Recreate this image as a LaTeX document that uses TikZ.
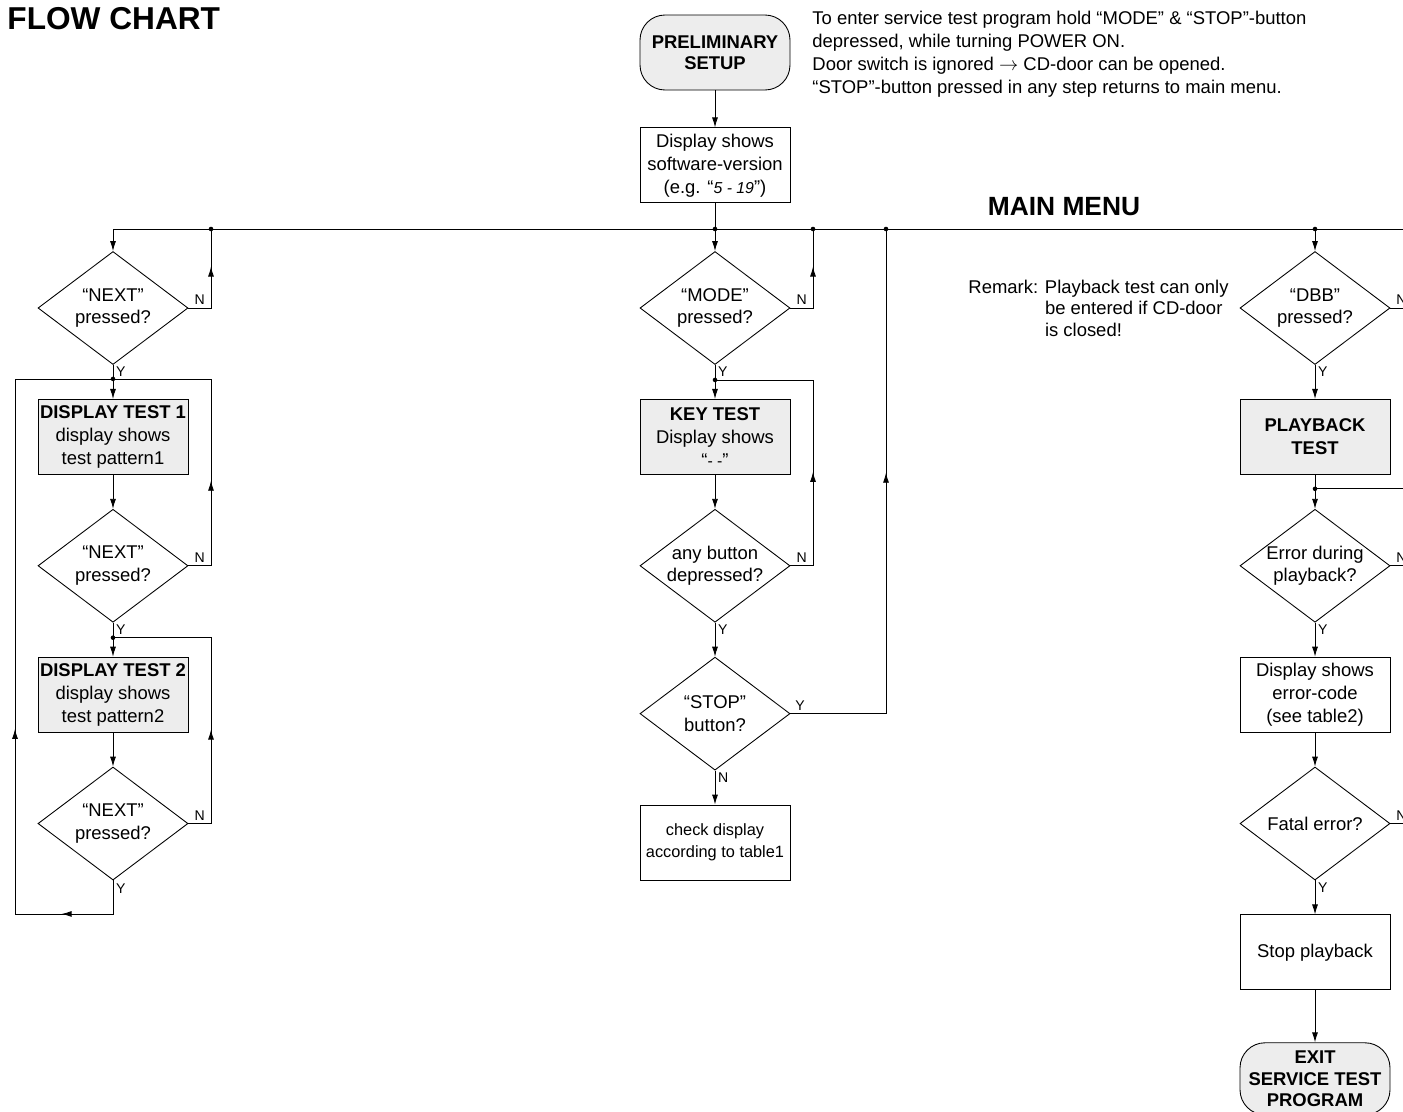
\documentclass[tikz,border=0pt]{standalone}
\usepackage{fontspec}
\setmainfont{Liberation Sans}
\usetikzlibrary{shapes.geometric, positioning, arrows.meta, decorations.markings, calc}

\begin{document}
\begin{tikzpicture}[node distance=0.68cm, line width=0.5pt, >={Latex[length=2mm,width=1.2mm]},
    every node/.style={font=\fontsize{10.5}{13}\selectfont},
    box/.style={draw, rectangle, minimum width=3cm, minimum height=1.5cm, align=center, inner sep=1pt},
    test/.style={box, fill=black!7},
    term/.style={box, fill=black!7, rounded corners=0.5cm, font=\fontsize{10.5}{12}\selectfont\bfseries},
    decision/.style={draw, diamond, minimum width=3cm, minimum height=2.26cm, inner sep=0pt, label={[align=center]center:#1}},
    yn/.style={font=\fontsize{8}{9}\selectfont, inner sep=1.5pt},
    marr/.style={postaction={decorate, decoration={markings, mark=at position #1 with {\arrow{>}}}}}]

    \useasboundingbox (0,0) rectangle (28.06,-22.22);
    \clip (0,0) rectangle (28.06,-22.22);

    % titles and remarks
    \node[anchor=base west, inner sep=0pt, font=\fontsize{18}{20}\selectfont\bfseries] (title) at (0.14,-0.58) {FLOW CHART};
    \node[anchor=base, inner sep=0pt, font=\fontsize{15}{17}\selectfont\bfseries] (menu) at (21.28,-4.3) {MAIN MENU};
    \node[anchor=north west, inner sep=0pt, align=left] (note) at (16.24,-0.22) {To enter service test program hold “MODE” \& “STOP”-button\\depressed, while turning POWER ON.\\Door switch is ignored $\rightarrow$ CD-door can be opened.\\“STOP”-button pressed in any step returns to main menu.};
    \node[anchor=north west, inner sep=0pt, font=\fontsize{10.5}{12.4}\selectfont] (rem) at (19.36,-5.55) {\begin{tabular}{@{}l@{ }l@{}}Remark: & Playback test can only\\ & be entered if CD-door\\ & is closed!\end{tabular}};

    % start
    \node[term] (pre) at (14.3,-1.05) {PRELIMINARY\\SETUP};
    \node[box, below=0.74cm of pre] (ver) {Display shows\\software-version\\(e.g. “{\itshape\fontsize{9}{10}\selectfont 5 - 19}”)};

    % main menu line
    \coordinate (mA) at (2.26,-4.58);
    \coordinate (mA1) at (4.22,-4.58);
    \coordinate (mB) at (14.3,-4.58);
    \coordinate (mB1) at (16.26,-4.58);
    \coordinate (mB2) at (17.72,-4.58);
    \coordinate (mC) at (26.3,-4.58);
    \coordinate (mEnd) at (28.4,-4.58);

    % display test
    \node[decision={“NEXT”\\pressed?}] (dA1) at (2.26,-6.16) {};
    \node[test, below=of dA1] (tA1) {\textbf{DISPLAY TEST 1}\\display shows\\test pattern1};
    \node[decision={“NEXT”\\pressed?}, below=of tA1] (dA2) {};
    \node[test, below=of dA2] (tA2) {\textbf{DISPLAY TEST 2}\\display shows\\test pattern2};
    \node[decision={“NEXT”\\pressed?}, below=of tA2] (dA3) {};
    \coordinate[below=0.28cm of dA1] (jA1);
    \coordinate[below=0.3cm of dA2] (jA2);
    \coordinate[below=0.67cm of dA3] (cA);

    % key test
    \node[decision={“MODE”\\pressed?}] (dB1) at (14.3,-6.16) {};
    \node[test, below=of dB1] (key) {\textbf{KEY TEST}\\Display shows\\“{\small - -}”};
    \node[decision={any button\\depressed?}, below=of key] (dB2) {};
    \node[decision={“STOP”\\button?}, below=of dB2] (dB3) {};
    \node[box, below=of dB3, font=\fontsize{9.3}{12.5}\selectfont] (chk) {check display\\according to table1};
    \coordinate[below=0.3cm of dB1] (jB1);

    % playback test
    \node[decision={“DBB”\\pressed?}] (dC1) at (26.3,-6.16) {};
    \node[test, below=of dC1] (pb) {\textbf{PLAYBACK}\\\textbf{TEST}};
    \node[decision={Error during\\playback?}, below=of pb] (dC2) {};
    \node[box, below=of dC2] (err) {Display shows\\error-code\\(see table2)};
    \node[decision={Fatal error?}, below=of err] (dC3) {};
    \node[box, below=of dC3] (stp) {Stop playback};
    \node[term, below=1.04cm of stp, minimum height=1.44cm] (exit) {EXIT\\SERVICE TEST\\PROGRAM};
    \coordinate[below=0.28cm of pb] (jC);

    % straight connections
    \path[->]
    (pre) edge (ver)
    (ver) edge (dB1)
    (mA) edge (dA1)
    (mC) edge (dC1)
    (dA1) edge node[yn, right, pos=0.2] {Y} (tA1)
    (tA1) edge (dA2)
    (dA2) edge node[yn, right, pos=0.2] {Y} (tA2)
    (tA2) edge (dA3)
    (dB1) edge node[yn, right, pos=0.2] {Y} (key)
    (key) edge (dB2)
    (dB2) edge node[yn, right, pos=0.2] {Y} (dB3)
    (dB3) edge node[yn, right, pos=0.2] {N} (chk)
    (dC1) edge node[yn, right, pos=0.2] {Y} (pb)
    (pb) edge (dC2)
    (dC2) edge node[yn, right, pos=0.2] {Y} (err)
    (err) edge (dC3)
    (dC3) edge node[yn, right, pos=0.2] {Y} (stp)
    (stp) edge (exit);

    % loops back
    \draw (mA) -- (mEnd);
    \draw[marr=0.63] (dA1.east) -| node[yn, above, pos=0.25] {N} (mA1);
    \draw[marr=0.35] (dA2.east) -| node[yn, above, pos=0.25] {N} ($(jA1)+(1.96,0)$) -- (jA1);
    \draw[marr=0.38] (dA3.east) -| node[yn, above, pos=0.25] {N} ($(jA2)+(1.96,0)$) -- (jA2);
    \draw[marr=0.111, marr=0.414] (dA3.south) -- node[yn, right, pos=0.25] {Y} (cA) -| ($(jA1)+(-1.96,0)$) -- (jA1);
    \draw[marr=0.63] (dB1.east) -| node[yn, above, pos=0.25] {N} (mB1);
    \draw[marr=0.38] (dB2.east) -| node[yn, above, pos=0.25] {N} ($(jB1)+(1.96,0)$) -- (jB1);
    \draw[marr=0.58] (dB3.east) -| node[yn, above, pos=0.05] {Y} (mB2);
    \draw (dC1.east) -- node[yn, above, pos=0.37] {N} (dC1.east -| mEnd);
    \draw (jC) -- (jC -| mEnd);
    \draw (dC2.east) -- node[yn, above, pos=0.37] {N} (dC2.east -| mEnd);
    \draw (dC3.east) -- node[yn, above, pos=0.37] {N} (dC3.east -| mEnd);

    \foreach \j in {mA1, mB, mB1, mB2, mC, jA1, jA2, jB1, jC}
        \fill (\j) circle (1.3pt);
\end{tikzpicture}
\end{document}
